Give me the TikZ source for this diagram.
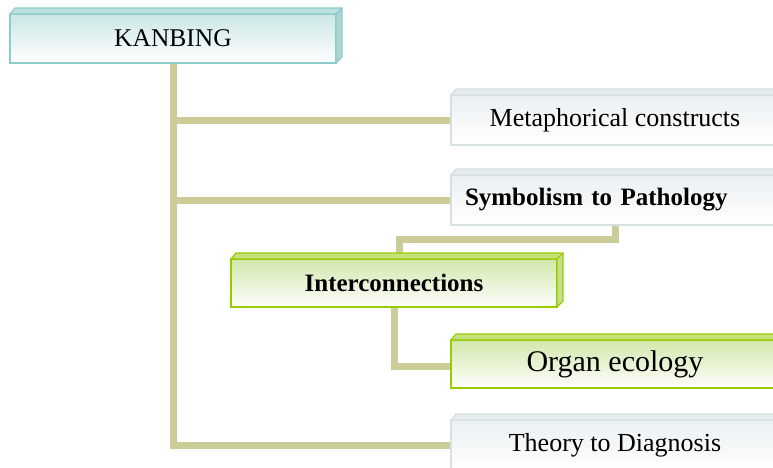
\documentclass[tikz,border=0pt]{standalone}
\usepackage{fontspec}
\setmainfont{Liberation Serif}
\usetikzlibrary{backgrounds}

\definecolor{stem}{RGB}{204,204,153}
\definecolor{tealline}{RGB}{140,204,204}
\definecolor{tealtop}{RGB}{192,224,224}
\definecolor{tealside}{RGB}{176,212,212}
\definecolor{tealfill}{RGB}{204,230,230}
\definecolor{greyline}{RGB}{214,224,228}
\definecolor{greytop}{RGB}{230,236,238}
\definecolor{greyfill}{RGB}{234,240,242}
\definecolor{greenline}{RGB}{153,204,0}
\definecolor{greentop}{RGB}{196,226,124}
\definecolor{greenside}{RGB}{196,224,140}
\definecolor{greenfill}{RGB}{210,232,172}

\tikzset{
  slab/.style={draw, line width=1.6pt, inner sep=0pt, outer sep=0pt,
    minimum height=#1, align=center},
  tealslab/.style={slab=49pt, minimum width=326pt, draw=tealline,
    top color=tealfill, bottom color=white},
  greyslab/.style={slab=50pt, minimum width=328pt, draw=greyline,
    top color=greyfill, bottom color=white},
  greenslab/.style={slab=48pt, minimum width=326pt, draw=greenline,
    top color=greenfill, bottom color=white!96!greenfill},
  link/.style={draw=stem, line width=7pt, line cap=rect, line join=miter},
  txt/.style={font=\fontsize{26}{30}\selectfont},
  boldtxt/.style={font=\fontsize{25}{30}\selectfont\bfseries},
}

% top and right faces of a raised box
\newcommand\raisedfaces[4]{%
  \filldraw[fill=#2, draw=#4, line width=1.2pt, line join=round]
    (#1.north west) -- ++(5,-6) -- ([shift={(6,-6)}]#1.north east)
    -- (#1.north east) -- cycle;
  \filldraw[fill=#3, draw=#4, line width=1.2pt, line join=round]
    (#1.north east) -- ++(6,-6) -- ([shift={(6,-6)}]#1.south east)
    -- (#1.south east) -- cycle;
}

\begin{document}
\begin{tikzpicture}[x=1pt, y=-1pt]
  \useasboundingbox (0,0) rectangle (773,467);
  \clip (0,0) rectangle (773,467);

  % boxes
  \node[tealslab, txt, font=\fontsize{25.5}{30}\selectfont] (kan) at (173,38.5) {KANBING};
  \node[greyslab, txt] (meta) at (615,120) {Metaphorical constructs};
  \node[greyslab, boldtxt, text width=300pt, inner xsep=14pt, align=left]
    (symb) at (615,200) {Symbolism to Pathology};
  \node[greenslab, boldtxt] (inter) at (394,283) {Interconnections};
  \node[greenslab, minimum width=328pt, font=\fontsize{30}{34}\selectfont]
    (organ) at (615,364) {Organ ecology};
  \node[greyslab, txt] (theory) at (615,445) {Theory to Diagnosis};

  \raisedfaces{kan}{tealtop}{tealside}{tealline}
  \raisedfaces{meta}{greytop}{greytop}{greyline}
  \raisedfaces{symb}{greytop}{greytop}{greyline}
  \raisedfaces{inter}{greentop}{greenside}{greenline}
  \raisedfaces{organ}{greentop}{greenside}{greenline}
  \raisedfaces{theory}{greytop}{greytop}{greyline}

  % connectors behind the boxes
  \begin{pgfonlayer}{background}
    \draw[link] ([xshift=0.5pt]kan.south) |- (theory.west);
    \draw[link] ([xshift=0.5pt]kan.south |- meta.west) -- (meta.west);
    \draw[link] ([xshift=0.5pt]kan.south |- symb.west) -- (symb.west);
    \draw[link] (symb.south) -- ++(0,14.5) -| ([xshift=5.5pt, yshift=-6pt]inter.north);
    \draw[link] ([xshift=0.5pt]inter.south) |- ([yshift=-2pt]organ.west);
  \end{pgfonlayer}
\end{tikzpicture}
\end{document}
